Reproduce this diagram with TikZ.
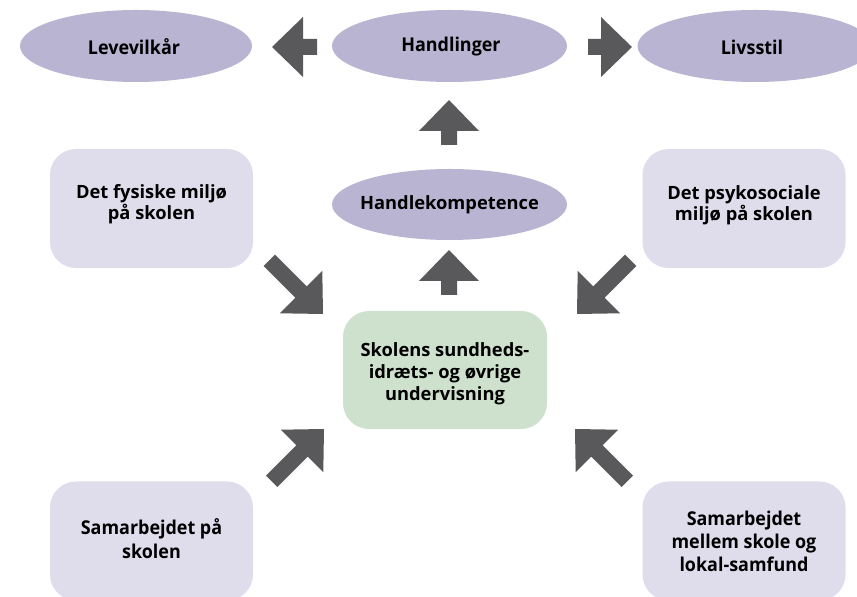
\documentclass[tikz,border=0pt]{standalone}
\usepackage{fontspec}
\usepackage{graphicx}
\setmainfont{Open Sans}
\usetikzlibrary{shapes.geometric}
\definecolor{arrowgray}{HTML}{59595B}
\definecolor{ellfill}{HTML}{B8B4D2}
\definecolor{boxfill}{HTML}{DFDDEC}
\definecolor{greenfill}{HTML}{CEE1CD}
\newcommand\cnd[1]{\scalebox{0.98}[1.04]{#1}}
\tikzset{
  x=1pt, y=1pt,
  ell/.style={ellipse, fill=ellfill, minimum width=235pt, minimum height=72pt, inner sep=0pt},
  sidebox/.style={rectangle, rounded corners=26pt, fill=boxfill, minimum width=203pt, minimum height=119pt, inner sep=0pt},
  mainbox/.style={rectangle, rounded corners=26pt, fill=greenfill, minimum width=204pt, minimum height=118pt, inner sep=0pt},
  lbl/.style={align=center, font=\fontsize{18.3}{21}\selectfont\bfseries, text=black},
  arrowfill/.style={fill=arrowgray}
}
\newcommand\blockarrow[4]{%
  \begin{scope}[shift={(#2)}, rotate=#3]
    \fill[arrowfill] (0,0) coordinate (#1) -- (-31,30) -- (-31,8) -- (-#4,8) -- (-#4,-8) -- (-31,-8) -- (-31,-30) -- cycle;
  \end{scope}}
\begin{document}
\begin{tikzpicture}
\useasboundingbox (0,0) rectangle (857,597);
\clip (0,0) rectangle (857,597);
% top row ellipses
\node[ell, minimum width=232pt] (lev) at (136,551) {};
\node[lbl] (levt) at (134,550) {\cnd{Levevilkår}};
\node[ell] (hand) at (449.5,551) {};
\node[lbl] (handt) at (451,550) {\cnd{Handlinger}};
\node[ell] (liv) at (755,551) {};
\node[lbl] (livt) at (752,550) {\cnd{Livsstil}};
% Handlekompetence
\node[ell, minimum height=71pt] (komp) at (449.5,392.5) {};
\node[lbl] (kompt) at (komp.center) {Handlekompetence};
% side boxes
\node[sidebox] (fys) at (151.5,388.5) {};
\node[lbl] (fyst) at (151.5,393) {Det fysiske miljø\\på skolen};
\node[sidebox] (psy) at (744,388.5) {};
\node[lbl] (psyt) at (744,392) {Det psykosociale\\miljø på skolen};
\node[mainbox] (main) at (445,227) {};
\node[lbl, font=\fontsize{18.3}{22}\selectfont\bfseries] (maint) at (445,223) {Skolens sundheds-\\idræts- og øvrige\\undervisning};
\node[sidebox] (sam) at (151.5,56) {};
\node[lbl, font=\fontsize{18.3}{24}\selectfont\bfseries] (samt) at (151.5,58) {\cnd{Samarbejdet på}\\\cnd{skolen}};
\node[sidebox] (mel) at (744,56) {};
\node[lbl, font=\fontsize{18.3}{23}\selectfont\bfseries] (melt) at (744,56) {\cnd{Samarbejdet}\\\cnd{mellem skole og}\\\cnd{lokal-samfund}};
% block arrows
\blockarrow{aL}{272,550}{180}{45}
\blockarrow{aR}{632,550}{0}{44}
\blockarrow{aU1}{449,497}{90}{45}
\blockarrow{aU2}{449,347}{90}{45}
\blockarrow{aTL}{323,283}{-45}{76}
\blockarrow{aTR}{577,283}{-135}{76}
\blockarrow{aBL}{324,168}{45}{74}
\blockarrow{aBR}{575,168}{135}{74}
\end{tikzpicture}
\end{document}
